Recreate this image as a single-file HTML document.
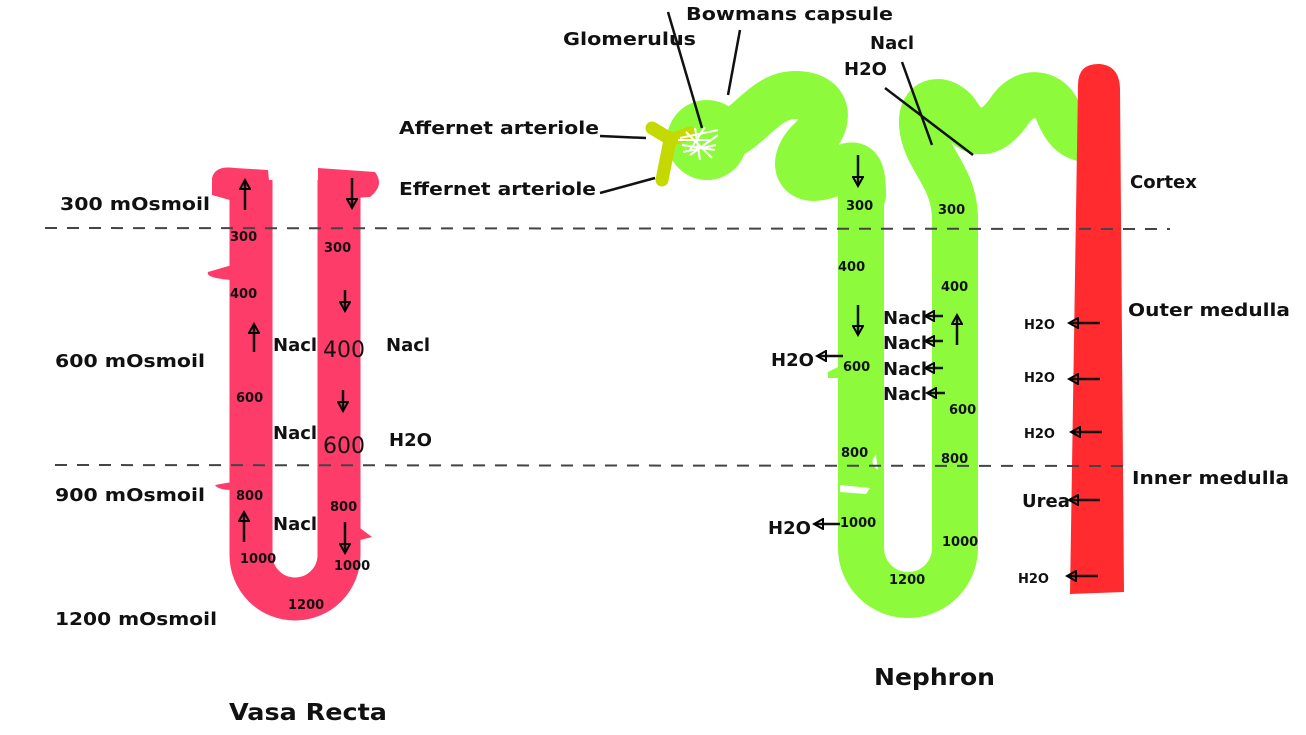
<!DOCTYPE html>
<html><head><meta charset="utf-8"><style>
html,body{margin:0;padding:0;background:#fff;}
svg{display:block;font-family:"DejaVu Sans","Liberation Sans",sans-serif;font-weight:bold;}
</style></head><body>
<svg width="1306" height="735" viewBox="0 0 1306 735" xmlns="http://www.w3.org/2000/svg">
<defs>
<marker id="ah" markerWidth="12" markerHeight="12" refX="9" refY="6" orient="auto" markerUnits="userSpaceOnUse"><path d="M1,1 L10,6 L1,11 Z" fill="none" stroke="#000" stroke-width="2"/></marker>
</defs>
<!-- Vasa recta -->
<path d="M251,180 L251,555 A44,44 0 0 0 339,555 L339,180" fill="none" stroke="#fd3c69" stroke-width="43"/>
<path d="M212,178 Q215,165 235,168 L268,170 L272,212 L212,195 Z" fill="#fd3c69"/>
<path d="M318,168 L375,172 Q385,185 370,197 L318,200 Z" fill="#fd3c69"/>
<path d="M232,265 L208,272 Q205,278 232,280 Z" fill="#fd3c69"/>
<path d="M232,482 L215,485 Q218,490 232,490 Z" fill="#fd3c69"/>
<path d="M360,528 L372,537 L360,540 Z" fill="#fd3c69"/>
<!-- Nephron green -->
<g fill="none" stroke="#8dfb3c" stroke-linecap="round" stroke-linejoin="round">
<path d="M861,175 L861,548 A47,47 0 0 0 955,548 L955,220 C955,175 925,160 922,125 C920,98 945,95 958,115 C970,135 990,140 1010,110 C1025,88 1050,92 1058,112 C1066,132 1075,140 1095,140" stroke-width="46"/>
<path d="M710,140 C745,140 760,95 795,95 C830,95 830,122 812,140 C792,158 795,182 822,176 C848,170 862,150 862,195" stroke-width="48"/>
</g>
<circle cx="707" cy="140" r="40" fill="#8dfb3c"/>
<path d="M828,372 L840,366 L844,378 L828,378 Z" fill="#8dfb3c"/>
<!-- Red bar -->
<path d="M1078,85 Q1078,63 1100,64 Q1120,66 1120,90 L1124,592 L1070,594 Z" fill="#ff2b2f"/>
<!-- glomerulus & arterioles -->
<path d="M652,128 L672,140 M670,140 L662,180 M670,140 L690,133" stroke="#c4d900" stroke-width="13" stroke-linecap="round" fill="none"/>
<g stroke="#fff" stroke-width="2" fill="none">
<path d="M680,138 L718,130 M682,145 L715,150 M686,132 L712,158 M690,155 L718,135 M695,128 L700,160 M705,127 L690,150 M710,140 L678,140 M683,152 L716,145"/>
</g>
<!-- gaps -->
<path d="M876,455 Q868,462 878,470" fill="#fff"/>
<path d="M840,485 L870,488 L866,494 L840,492 Z" fill="#fff"/>
<!-- dashed lines -->
<line x1="45" y1="228" x2="1170" y2="229" stroke="#444" stroke-width="2" stroke-dasharray="12,10"/>
<line x1="55" y1="465" x2="1130" y2="466" stroke="#444" stroke-width="2" stroke-dasharray="12,10"/>
<!-- leader lines -->
<g stroke="#111" stroke-width="2.5">
<line x1="668" y1="12" x2="702" y2="128"/>
<line x1="740" y1="30" x2="728" y2="95"/>
<line x1="600" y1="136" x2="646" y2="138"/>
<line x1="600" y1="193" x2="655" y2="178"/>
<line x1="902" y1="62" x2="932" y2="145"/>
<line x1="885" y1="88" x2="973" y2="155"/>
</g>
<!-- arrows -->
<g stroke="#111" stroke-width="2.5" fill="none" marker-end="url(#ah)">
<line x1="245" y1="210" x2="245" y2="181"/>
<line x1="352" y1="178" x2="352" y2="207"/>
<line x1="345" y1="290" x2="345" y2="310"/>
<line x1="254" y1="352" x2="254" y2="325"/>
<line x1="343" y1="390" x2="343" y2="410"/>
<line x1="244" y1="542" x2="244" y2="513"/>
<line x1="345" y1="522" x2="345" y2="552"/>
<line x1="858" y1="155" x2="858" y2="185"/>
<line x1="858" y1="305" x2="858" y2="334"/>
<line x1="957" y1="345" x2="957" y2="316"/>
<line x1="843" y1="356" x2="818" y2="356"/>
<line x1="840" y1="524" x2="815" y2="524"/>
<line x1="1100" y1="323" x2="1070" y2="323"/>
<line x1="1100" y1="379" x2="1070" y2="379"/>
<line x1="1102" y1="432" x2="1072" y2="432"/>
<line x1="1100" y1="500" x2="1070" y2="500"/>
<line x1="1098" y1="576" x2="1068" y2="576"/>
<line x1="943" y1="316" x2="926" y2="316"/>
<line x1="943" y1="341" x2="926" y2="341"/>
<line x1="943" y1="368" x2="926" y2="368"/>
<line x1="945" y1="393" x2="928" y2="393"/>
</g>
<!-- labels -->
<g fill="#111" font-size="18">
<text x="686" y="20" textLength="207" lengthAdjust="spacingAndGlyphs">Bowmans capsule</text>
<text x="563" y="45" textLength="133" lengthAdjust="spacingAndGlyphs">Glomerulus</text>
<text x="399" y="134" textLength="200" lengthAdjust="spacingAndGlyphs">Affernet arteriole</text>
<text x="399" y="195" textLength="197" lengthAdjust="spacingAndGlyphs">Effernet arteriole</text>
<text x="870" y="49">Nacl</text>
<text x="844" y="75">H2O</text>
<text x="1130" y="188">Cortex</text>
<text x="1128" y="316" textLength="162" lengthAdjust="spacingAndGlyphs">Outer medulla</text>
<text x="1132" y="484" textLength="157" lengthAdjust="spacingAndGlyphs">Inner medulla</text>
<text x="60" y="210" textLength="150" lengthAdjust="spacingAndGlyphs">300 mOsmoil</text>
<text x="55" y="367" textLength="150" lengthAdjust="spacingAndGlyphs">600 mOsmoil</text>
<text x="55" y="501" textLength="150" lengthAdjust="spacingAndGlyphs">900 mOsmoil</text>
<text x="55" y="625" textLength="162" lengthAdjust="spacingAndGlyphs">1200 mOsmoil</text>
<text x="273" y="351">Nacl</text>
<text x="273" y="439">Nacl</text>
<text x="273" y="530">Nacl</text>
<text x="386" y="351">Nacl</text>
<text x="389" y="446">H2O</text>
<text x="883" y="324">Nacl</text>
<text x="883" y="349">Nacl</text>
<text x="883" y="375">Nacl</text>
<text x="883" y="400">Nacl</text>
<text x="771" y="366">H2O</text>
<text x="768" y="534">H2O</text>
<text x="1022" y="507">Urea</text>
<text x="874" y="685" font-size="23" textLength="121" lengthAdjust="spacingAndGlyphs">Nephron</text>
<text x="229" y="720" font-size="23" textLength="158" lengthAdjust="spacingAndGlyphs">Vasa Recta</text>
<text x="323" y="357" font-size="22" font-weight="normal">400</text>
<text x="323" y="453" font-size="22" font-weight="normal">600</text>
</g>
<g fill="#111" font-size="13">
<text x="230" y="241">300</text><text x="324" y="252">300</text>
<text x="230" y="298">400</text><text x="236" y="402">600</text>
<text x="236" y="500">800</text><text x="330" y="511">800</text>
<text x="240" y="563">1000</text><text x="334" y="570">1000</text>
<text x="288" y="609">1200</text>
<text x="846" y="210">300</text><text x="938" y="214">300</text>
<text x="838" y="271">400</text><text x="941" y="291">400</text>
<text x="843" y="371">600</text><text x="949" y="414">600</text>
<text x="841" y="457">800</text><text x="941" y="463">800</text>
<text x="840" y="527">1000</text><text x="942" y="546">1000</text>
<text x="889" y="584">1200</text>
<text x="1024" y="329">H2O</text><text x="1024" y="382">H2O</text>
<text x="1024" y="438">H2O</text><text x="1018" y="583">H2O</text>
</g>
</svg>
</body></html>
